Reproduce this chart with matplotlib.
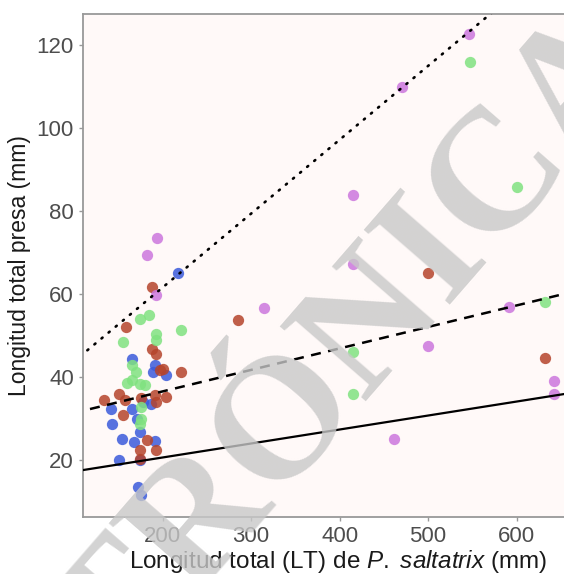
import numpy as np
import matplotlib
matplotlib.use('Agg')
import matplotlib.pyplot as plt

# longitud total depredador (mm) / longitud total presa (mm), por grupo de color
azul_x = [217, 165, 191, 189, 204, 142, 143, 154, 151, 166, 187, 174, 168, 191, 172, 176, 174, 171, 178]
azul_y = [65, 44.3, 42.9, 41.2, 40.5, 32.3, 28.7, 25, 20, 32.3, 33.5, 26.7, 24.3, 24.6, 13.5, 11.6, 20, 30, 34]

rojo_x = [188, 500, 632, 285, 159, 188, 193, 200, 221, 134, 151, 157, 155, 191, 204, 193, 182, 193, 174, 174, 176, 197]
rojo_y = [61.7, 65, 44.6, 53.7, 52, 46.7, 45.5, 42, 41.2, 34.5, 36, 34.5, 30.8, 35.7, 35.2, 34, 24.8, 22.4, 22.4, 20.2, 35, 41.7]

verde_x = [547, 600, 415, 415, 632, 221, 174, 185, 155, 193, 193, 165, 170, 166, 174, 176, 174, 176, 160, 180]
verde_y = [116, 85.7, 46, 36, 58, 51.3, 54, 55, 48.4, 50.4, 49, 43, 41.2, 39.3, 38.4, 32.8, 28.7, 30, 38.5, 38]

violeta_x = [182, 194, 193, 415, 415, 315, 470, 546, 500, 461, 642, 642, 591]
violeta_y = [69.4, 73.5, 59.8, 84, 67.2, 56.6, 110, 122.6, 47.4, 25, 39, 36, 57]

# rectas (intercepto, pendiente)
recta_solida = (13.9, 0.0337)
recta_rayas = (26.2, 0.0518)
recta_puntos = (26.0, 0.178)

plt.rcParams['font.family'] = ['Liberation Sans', 'DejaVu Sans']
plt.rcParams['mathtext.fontset'] = 'custom'
plt.rcParams['mathtext.rm'] = 'Liberation Sans'
plt.rcParams['mathtext.it'] = 'Liberation Sans:italic'

fig = plt.figure(figsize=(5.64, 5.74), dpi=100)
# el panel sigue mas alla del borde derecho (imagen recortada)
ax = fig.add_axes([0.147, 0.0993, 0.904, 0.8763])
ax.set_facecolor('#fff9f8')

grupos = [(azul_x, azul_y, '#3b5bdb'), (rojo_x, rojo_y, '#b5442c'),
          (verde_x, verde_y, '#80e280'), (violeta_x, violeta_y, '#cc77dd')]
for gx, gy, c in grupos:
    ax.scatter(gx, gy, s=66, color=c, alpha=0.85, linewidths=0, zorder=2)

xs = np.array([110, 700])
ax.plot(xs, recta_solida[0] + recta_solida[1] * xs, color='black', lw=1.6, zorder=3)
xs = np.array([118, 700])
ax.plot(xs, recta_rayas[0] + recta_rayas[1] * xs, color='black', lw=1.8,
        dashes=(4, 3), zorder=3)
xs = np.array([115, 700])
ax.plot(xs, recta_puntos[0] + recta_puntos[1] * xs, color='black', lw=1.9,
        dashes=(0.5, 3), dash_capstyle='round', zorder=3)

ax.set_xlim(110, 686)
ax.set_ylim(6.3, 127.5)
ax.set_xticks([200, 300, 400, 500, 600])
ax.set_yticks([20, 40, 60, 80, 100, 120])
for s in ax.spines.values():
    s.set_color('#999999')
    s.set_linewidth(1.3)
ax.tick_params(colors='#999999', labelcolor='#4d4d4d', labelsize=16, length=3, width=1)

ax.set_xlabel('Longitud total (LT) de $\\it{P.\\ saltatrix}$ (mm)', fontsize=17.5,
              color='#1a1a1a', labelpad=1)
ax.set_ylabel('Longitud total presa (mm)', fontsize=16.5, color='#1a1a1a', labelpad=4)

# marca de agua
fig.text(1.16, 0.885, 'ELECTRÓNICA', family='Liberation Serif', fontsize=125,
         fontweight='bold', color='#c8c8c8', alpha=0.8, rotation=49,
         rotation_mode='anchor', ha='right', va='baseline', zorder=10)

fig.savefig('out.png', dpi=100)
